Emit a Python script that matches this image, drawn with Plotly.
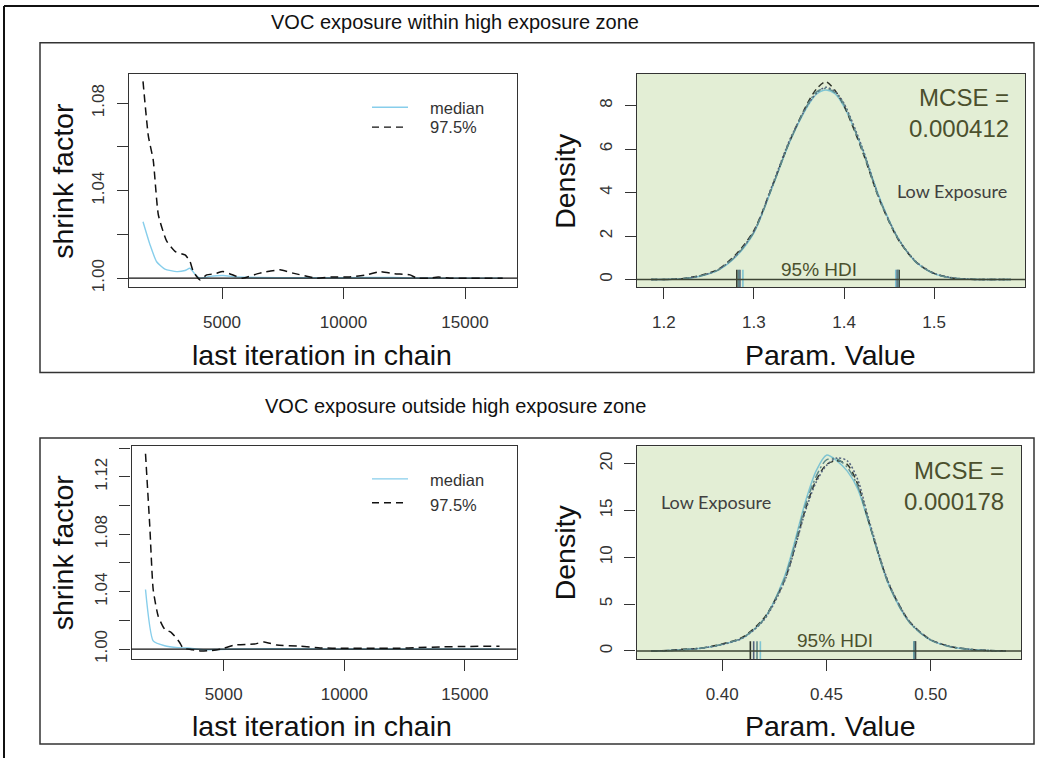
import plotly.graph_objects as go

W, H = 1039, 763
FONT = "Liberation Sans, Arial, sans-serif"

# ---------------- data ----------------
# Gelman shrink factor, top row (within high exposure zone)
TOP_ITER_975 = [1750, 1970, 2170, 2380, 2720, 3100, 3480, 3680, 3820, 4100, 4370, 4700, 5040,
                5600, 5860, 6560, 7390, 7920, 8900, 9500, 10200, 10960, 11500, 12100, 12740,
                13010, 13500, 13900, 14380, 15000, 16000, 16550]
TOP_VAL_975 = [1.090, 1.065, 1.054, 1.029, 1.017, 1.012, 1.0106, 1.0077, 1.003, 0.9992, 1.0015,
               1.002, 1.003, 1.0008, 1.0000, 1.0023, 1.0038, 1.0023, 1.0000, 1.0005, 1.0005,
               1.0015, 1.0030, 1.0020, 1.0015, 1.0000, 1.0000, 1.0005, 1.0000, 1.0000, 1.0000, 1.0000]
TOP_ITER_MED = [1750, 2040, 2310, 2650, 3140, 3480, 3680, 3890, 4100, 4500, 5040, 5600, 6500,
                8000, 10000, 12000, 12860, 14000, 16550]
TOP_VAL_MED = [1.0258, 1.0152, 1.0075, 1.0041, 1.0030, 1.0035, 1.0045, 1.0018, 1.0000, 1.0008,
               1.0012, 1.0005, 1.0003, 1.0002, 1.0002, 1.0003, 1.0001, 1.0000, 1.0000]

# Gelman shrink factor, bottom row (outside high exposure zone)
BOT_ITER_975 = [1754, 1932, 2072, 2278, 2550, 2827, 3169, 3309, 3700, 4064, 4500, 4889, 5437,
                6262, 6674, 7200, 8188, 9000, 10000, 11000, 12312, 13000, 14000, 15000, 16436]
BOT_VAL_975 = [1.136, 1.0854, 1.0415, 1.0230, 1.0138, 1.0115, 1.0046, 1.0007, 0.9995, 0.9986,
               0.9990, 1.0000, 1.0028, 1.0035, 1.0050, 1.0028, 1.0020, 1.0008, 1.0005, 1.0005,
               1.0005, 1.0010, 1.0015, 1.0018, 1.0020]
BOT_ITER_MED = [1754, 2072, 2550, 3103, 3515, 4200, 4750, 5500, 7000, 9000, 12000, 16436]
BOT_VAL_MED = [1.0415, 1.0057, 1.0023, 1.0010, 1.0007, 0.9995, 0.9997, 1.0000, 1.0002, 1.0001,
               1.0000, 1.0000]

GELMAN_XTICKS = [5000, 10000, 15000]
GELMAN_XTEXT = ["5000", "10000", "15000"]
TOP_GEL_YTICKS = [1.00, 1.02, 1.04, 1.06, 1.08]
TOP_GEL_YTEXT = ["1.00", "", "1.04", "", "1.08"]
BOT_GEL_YTICKS = [1.00, 1.02, 1.04, 1.06, 1.08, 1.10, 1.12, 1.14]
BOT_GEL_YTEXT = ["1.00", "", "1.04", "", "1.08", "", "1.12", ""]

# Posterior densities per chain, top row
X_TOP = [1.186, 1.21, 1.22, 1.24, 1.26, 1.28, 1.30, 1.32, 1.34, 1.36, 1.37, 1.38, 1.39, 1.40,
         1.42, 1.44, 1.46, 1.48, 1.50, 1.52, 1.54, 1.585]
TOP_C1 = [0, 0.01, 0.03, 0.15, 0.42, 1.05, 2.15, 4.20, 6.35, 8.00, 8.55, 8.72, 8.55, 7.95, 6.05,
          3.70, 1.90, 0.80, 0.27, 0.07, 0.01, 0]
TOP_C2 = [0, 0.01, 0.04, 0.18, 0.46, 1.15, 2.25, 4.25, 6.40, 8.15, 8.80, 9.10, 8.70, 8.00, 5.95,
          3.60, 1.85, 0.80, 0.28, 0.07, 0.01, 0]
TOP_C3 = [0, 0.01, 0.03, 0.16, 0.44, 1.10, 2.20, 4.30, 6.45, 8.05, 8.60, 8.85, 8.65, 8.10, 6.10,
          3.65, 1.90, 0.82, 0.28, 0.08, 0.01, 0]
TOP_C4 = [0, 0.01, 0.03, 0.15, 0.43, 1.08, 2.18, 4.22, 6.38, 8.08, 8.65, 8.80, 8.60, 8.05, 6.00,
          3.62, 1.88, 0.79, 0.27, 0.07, 0.01, 0]
TOP_HDI_LO = [1.2878, 1.2811, 1.2845, 1.2830]
TOP_HDI_HI = [1.4574, 1.4611, 1.4590, 1.4600]
TOP_MCSE = "0.000412"
DENS_TOP_XTICKS = [1.2, 1.3, 1.4, 1.5]
DENS_TOP_YTICKS = [0, 2, 4, 6, 8]

# Posterior densities per chain, bottom row
X_BOT = [0.366, 0.375, 0.38, 0.39, 0.40, 0.41, 0.42, 0.43, 0.44, 0.445, 0.45, 0.455, 0.46, 0.465,
         0.47, 0.48, 0.49, 0.50, 0.51, 0.52, 0.525, 0.536]
BOT_C1 = [0, 0.05, 0.12, 0.30, 0.70, 1.40, 3.40, 8.0, 16.0, 19.2, 20.9, 20.3, 19.2, 17.3, 13.9,
          7.0, 3.0, 1.15, 0.42, 0.14, 0.07, 0]
BOT_C2 = [0, 0.06, 0.18, 0.32, 0.75, 1.50, 3.50, 7.6, 15.2, 18.2, 19.9, 20.3, 19.9, 17.8, 14.0,
          7.1, 3.1, 1.20, 0.45, 0.15, 0.08, 0]
BOT_C3 = [0, 0.05, 0.12, 0.30, 0.68, 1.40, 3.30, 7.5, 15.0, 18.0, 19.8, 20.6, 20.3, 18.3, 14.3,
          7.2, 3.1, 1.20, 0.45, 0.15, 0.07, 0]
BOT_C4 = [0, 0.05, 0.13, 0.31, 0.72, 1.45, 3.40, 7.8, 15.6, 18.6, 20.4, 20.5, 19.6, 17.6, 14.0,
          7.0, 3.0, 1.15, 0.43, 0.14, 0.07, 0]
BOT_HDI_LO = [0.4183, 0.4135, 0.4151, 0.4167]
BOT_HDI_HI = [0.4919, 0.4927, 0.4923, 0.4921]
BOT_MCSE = "0.000178"
DENS_BOT_XTICKS = [0.40, 0.45, 0.50]
DENS_BOT_XTEXT = ["0.40", "0.45", "0.50"]
DENS_BOT_YTICKS = [0, 5, 10, 15, 20]

ROW_TITLES = ["VOC exposure within high exposure zone", "VOC exposure outside high exposure zone"]

# ---------------- styling ----------------
GREEN_BG = "#e3eed5"
OLIVE = "#4b502d"
CHAIN_COLORS = ["#7fc4d2", "#2f352a", "#52627e", "#5f8a8a"]
CHAIN_DASH = ["solid", "6px,4px", "2px,2px", "8px,3px,2px,3px"]
SKY = "#87ceeb"


def fx(x):
    return x / W


def fy(y):
    return 1 - y / H


fig = go.Figure()

# Gelman plots
for ax, it975, v975, itmed, vmed in [("", TOP_ITER_975, TOP_VAL_975, TOP_ITER_MED, TOP_VAL_MED),
                                      ("3", BOT_ITER_975, BOT_VAL_975, BOT_ITER_MED, BOT_VAL_MED)]:
    fig.add_trace(go.Scatter(x=itmed, y=vmed, mode="lines", xaxis="x" + ax, yaxis="y" + ax,
                             line=dict(color=SKY, width=1.4, shape="spline", smoothing=0.5),
                             showlegend=False, hoverinfo="skip"))
    fig.add_trace(go.Scatter(x=it975, y=v975, mode="lines", xaxis="x" + ax, yaxis="y" + ax,
                             line=dict(color="#111", width=1.5, dash="8px,5px", shape="spline",
                                       smoothing=0.5),
                             showlegend=False, hoverinfo="skip"))

# Density plots
for ax, xs, chains, lo, hi in [("2", X_TOP, [TOP_C1, TOP_C2, TOP_C3, TOP_C4], TOP_HDI_LO, TOP_HDI_HI),
                               ("4", X_BOT, [BOT_C1, BOT_C2, BOT_C3, BOT_C4], BOT_HDI_LO, BOT_HDI_HI)]:
    for i, ys in enumerate(chains):
        fig.add_trace(go.Scatter(x=xs, y=ys, mode="lines", xaxis="x" + ax, yaxis="y" + ax,
                                 line=dict(color=CHAIN_COLORS[i], width=1.5, dash=CHAIN_DASH[i],
                                           shape="spline", smoothing=0.8),
                                 showlegend=False, hoverinfo="skip"))
    for i in range(len(lo)):
        fig.add_trace(go.Scatter(x=[lo[i], hi[i]], y=[0, 0], mode="markers",
                                 xaxis="x" + ax, yaxis="y" + ax,
                                 marker=dict(symbol="line-ns", size=14,
                                             line=dict(color=CHAIN_COLORS[i], width=1.6)),
                                 showlegend=False, hoverinfo="skip"))

# axes
base_axis = dict(showline=True, mirror=True, linecolor="#333", linewidth=1.3, ticks="outside",
                 ticklen=11, tickwidth=1.3, tickcolor="#333", showgrid=False, zeroline=False,
                 tickfont=dict(family=FONT, size=17, color="#333"), fixedrange=True)

TL = dict(x=[fx(129), fx(517)], y=[fy(289), fy(74)])
TR = dict(x=[fx(637), fx(1025)], y=[fy(289), fy(74)])
BL = dict(x=[fx(131.5), fx(516.5)], y=[fy(663.3), fy(449.3)])
BR = dict(x=[fx(636.5), fx(1021)], y=[fy(663.3), fy(449.3)])

layout = dict(width=W, height=H, margin=dict(l=0, r=0, t=0, b=0),
              paper_bgcolor="white", plot_bgcolor="white", showlegend=False)

layout["xaxis"] = dict(base_axis, domain=TL["x"], anchor="y", range=[1173, 17140],
                       tickvals=GELMAN_XTICKS, ticktext=GELMAN_XTEXT, ticklabelstandoff=8)
layout["yaxis"] = dict(base_axis, domain=TL["y"], anchor="x", range=[0.9959, 1.0936],
                       tickvals=TOP_GEL_YTICKS, ticktext=TOP_GEL_YTEXT, tickangle=-90,
                       ticklabelstandoff=6)
layout["xaxis2"] = dict(base_axis, domain=TR["x"], anchor="y2", range=[1.1703, 1.6008],
                        tickvals=DENS_TOP_XTICKS, ticklabelstandoff=8)
layout["yaxis2"] = dict(base_axis, domain=TR["y"], anchor="x2", range=[-0.35, 9.48],
                        tickvals=DENS_TOP_YTICKS, tickangle=-90, ticklabelstandoff=6)
layout["xaxis3"] = dict(base_axis, domain=BL["x"], anchor="y3", range=[1173, 17140],
                        tickvals=GELMAN_XTICKS, ticktext=GELMAN_XTEXT, ticklabelstandoff=8)
layout["yaxis3"] = dict(base_axis, domain=BL["y"], anchor="x3", range=[0.9931, 1.1412],
                        tickvals=BOT_GEL_YTICKS, ticktext=BOT_GEL_YTEXT, tickangle=-90,
                        ticklabelstandoff=6)
layout["xaxis4"] = dict(base_axis, domain=BR["x"], anchor="y4", range=[0.3589, 0.5433],
                        tickvals=DENS_BOT_XTICKS, ticktext=DENS_BOT_XTEXT, ticklabelstandoff=8)
layout["yaxis4"] = dict(base_axis, domain=BR["y"], anchor="x4", range=[-0.85, 21.84],
                        tickvals=DENS_BOT_YTICKS, tickangle=-90, ticklabelstandoff=6)

shapes = []
# green panels
for ax in ["2", "4"]:
    shapes.append(dict(type="rect", xref="x%s domain" % ax, yref="y%s domain" % ax,
                       x0=0, x1=1, y0=0, y1=1, fillcolor=GREEN_BG, line=dict(width=0),
                       layer="below"))
# reference lines
shapes.append(dict(type="line", xref="x domain", yref="y", x0=0, x1=1, y0=1, y1=1,
                   line=dict(color="#111", width=1.3)))
shapes.append(dict(type="line", xref="x3 domain", yref="y3", x0=0, x1=1, y0=1, y1=1,
                   line=dict(color="#111", width=1.3)))
shapes.append(dict(type="line", xref="x2 domain", yref="y2", x0=0, x1=1, y0=0, y1=0,
                   line=dict(color="#3d4535", width=1.3)))
shapes.append(dict(type="line", xref="x4 domain", yref="y4", x0=0, x1=1, y0=0, y1=0,
                   line=dict(color="#3d4535", width=1.3)))
# outer frame (left + top)
shapes.append(dict(type="line", xref="paper", yref="paper", x0=fx(4), x1=fx(4), y0=0, y1=fy(6),
                   line=dict(color="#111", width=2)))
shapes.append(dict(type="line", xref="paper", yref="paper", x0=fx(4), x1=1, y0=fy(6), y1=fy(6),
                   line=dict(color="#111", width=2)))
# row boxes
for (y0, y1) in [(43, 375), (441, 749)]:
    shapes.append(dict(type="rect", xref="paper", yref="paper", x0=fx(40), x1=fx(1034),
                       y0=fy(y1), y1=fy(y0), line=dict(color="#333", width=1.5)))
# legend samples
for (ym, yd) in [(108, 128), (482, 506)]:
    shapes.append(dict(type="line", xref="paper", yref="paper", x0=fx(372), x1=fx(408),
                       y0=fy(ym), y1=fy(ym), line=dict(color=SKY, width=1.4)))
    shapes.append(dict(type="line", xref="paper", yref="paper", x0=fx(372), x1=fx(408),
                       y0=fy(yd), y1=fy(yd), line=dict(color="#111", width=1.4, dash="7px,5px")))
layout["shapes"] = shapes

ann = []


def txt(x, y, s, size, color="#111", angle=0, xanchor="center", family=FONT):
    ann.append(dict(x=fx(x), y=fy(y), xref="paper", yref="paper", text=s, showarrow=False,
                    xanchor=xanchor, yanchor="middle", textangle=angle,
                    font=dict(family=family, size=size, color=color)))


# row titles
txt(455, 22, ROW_TITLES[0], 20)
txt(455, 409, ROW_TITLES[1], 20)
# axis titles
for yoff in [0, 374]:
    txt(63, 182 + yoff, "shrink factor", 28.5, angle=-90)
    txt(322, 357 + yoff, "last iteration in chain", 28.5)
    txt(565, 182 + yoff, "Density", 28.5, angle=-90)
    txt(830, 357 + yoff, "Param. Value", 28.5)
# legends
for (ym, yd) in [(109, 128), (483, 508)]:
    txt(428, ym, "median", 16.5, color="#333", xanchor="left")
    txt(428, yd, "97.5%", 16.5, color="#333", xanchor="left")
# Low Exposure
txt(952, 192, "Low Exposure", 18, color="#404040", family="Lato, Open Sans, sans-serif")
txt(716, 505, "Low Exposure", 18, color="#404040", family="Lato, Open Sans, sans-serif")

# MCSE and HDI labels (data-anchored)
for ax, xs, chains, lo, hi, mcse in [("2", X_TOP, [TOP_C1, TOP_C2, TOP_C3, TOP_C4], TOP_HDI_LO,
                                      TOP_HDI_HI, TOP_MCSE),
                                     ("4", X_BOT, [BOT_C1, BOT_C2, BOT_C3, BOT_C4], BOT_HDI_LO,
                                      BOT_HDI_HI, BOT_MCSE)]:
    ymax = max(max(c) for c in chains)
    ann.append(dict(x=max(xs), y=ymax, xref="x" + ax, yref="y" + ax,
                    text="MCSE =<br>" + mcse, showarrow=False, xanchor="right", yanchor="top",
                    align="right", font=dict(family=FONT, size=24, color=OLIVE)))
    hdi_mid = (sum(lo) + sum(hi)) / (len(lo) + len(hi))
    ann.append(dict(x=hdi_mid, y=0, xref="x" + ax, yref="y" + ax, text="95% HDI",
                    showarrow=False, xanchor="center", yanchor="bottom", yshift=-2,
                    font=dict(family=FONT, size=19, color=OLIVE)))
layout["annotations"] = ann

fig.update_layout(**layout)
fig.write_html("out.html", config={"displayModeBar": False},
               post_script="document.body.style.margin='0';document.body.style.overflow='hidden';")
